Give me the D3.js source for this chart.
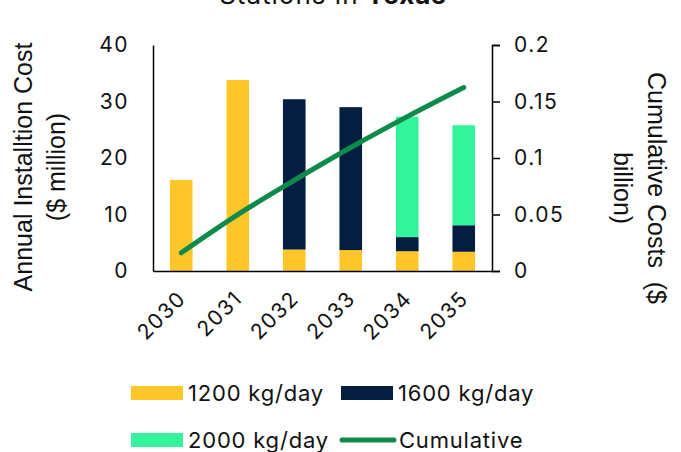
<!DOCTYPE html>
<html>
<head>
<meta charset="utf-8">
<script src="https://cdn.jsdelivr.net/npm/d3@7"></script>
<style>
  body { margin: 0; background: #fff; }
  svg { display: block; }
  .tick text { font-family: Inter, "DejaVu Sans", sans-serif; fill: #111; letter-spacing: 1.5px; }
</style>
</head>
<body>
<script>
var years = ["2030", "2031", "2032", "2033", "2034", "2035"];
var kg1200 = [16.1, 33.8, 3.8, 3.7, 3.5, 3.4];
var kg1600 = [0, 0, 26.6, 25.3, 2.5, 4.7];
var kg2000 = [0, 0, 0, 0, 21.3, 17.7];
var cumulative = [0.0161, 0.0499, 0.0803, 0.1093, 0.1366, 0.1624];
var leftTicks = [0, 10, 20, 30, 40];
var rightTicks = [0, 0.05, 0.1, 0.15, 0.2];

var seriesNames = ["1200 kg/day", "1600 kg/day", "2000 kg/day"];
var colors = ["#FFC629", "#041E42", "#33F39B"];
var lineColor = "#0E8A4B";

var W = 681, H = 452;
var margin = { left: 153, right: 189, top: 45, bottom: 181 };
var width = W - margin.left - margin.right;
var height = H - margin.top - margin.bottom;

var svg = d3.select("body").append("svg")
    .attr("width", W)
    .attr("height", H);

var g = svg.append("g")
    .attr("transform", `translate(${margin.left}, ${margin.top})`);

var x = d3.scaleBand()
    .domain(years)
    .range([0, width])
    .paddingInner(0.6)
    .paddingOuter(0.3);

var y = d3.scaleLinear().domain([0, 40]).range([height, 0]);
var y2 = d3.scaleLinear().domain([0, 0.2]).range([height, 0]);

// stacked bars
var table = years.map((yr, i) => ({ year: yr, a: kg1200[i], b: kg1600[i], c: kg2000[i] }));
var stacked = d3.stack().keys(["a", "b", "c"])(table);

g.selectAll(".layer")
    .data(stacked)
    .enter()
    .append("g")
    .attr("fill", (d, i) => colors[i])
    .selectAll("rect")
    .data(d => d.filter(p => p[1] - p[0] > 0))
    .enter()
    .append("rect")
    .attr("x", d => x(d.data.year))
    .attr("y", d => y(d[1]))
    .attr("width", x.bandwidth())
    .attr("height", d => y(d[0]) - y(d[1]));

// axes
var leftAxis = g.append("g")
    .call(d3.axisLeft(y).tickValues(leftTicks).tickSize(0).tickPadding(24));
leftAxis.select(".domain").attr("stroke", "#000").attr("stroke-width", 1.5);
leftAxis.selectAll("text").attr("font-size", 21);

var rightAxis = g.append("g")
    .attr("transform", `translate(${width}, 0)`)
    .call(d3.axisRight(y2).tickValues(rightTicks).tickSize(8).tickPadding(14).tickFormat(d3.format("~g")));
rightAxis.select(".domain").attr("stroke", "#000").attr("stroke-width", 1.5);
rightAxis.selectAll("line").attr("stroke", "#000").attr("stroke-width", 1.5);
rightAxis.selectAll("text").attr("font-size", 21);

var bottomAxis = g.append("g")
    .attr("transform", `translate(0, ${height})`)
    .call(d3.axisBottom(x).tickSize(0).tickPadding(24));
bottomAxis.select(".domain").attr("stroke", "#000").attr("stroke-width", 1.5);
bottomAxis.selectAll("text")
    .attr("font-size", 21)
    .attr("transform", "translate(-20, 0) rotate(-45)")
    .attr("dx", "-0.1em")
    .attr("dy", "0.7em")
    .attr("text-anchor", "end");

// cumulative line
var line = d3.line()
    .x((d, i) => x(years[i]) + x.bandwidth() / 2)
    .y(d => y2(d))
    .curve(d3.curveMonotoneX);

g.append("path")
    .datum(cumulative)
    .attr("fill", "none")
    .attr("stroke", lineColor)
    .attr("stroke-width", 5)
    .attr("stroke-linecap", "round")
    .attr("d", line);

// axis titles
var leftTitle = svg.append("text")
    .attr("transform", "translate(32, 167) rotate(-90)")
    .attr("text-anchor", "middle")
    .attr("font-family", "'Liberation Sans', Arial, sans-serif")
    .attr("font-size", 25)
    .attr("fill", "#111");
leftTitle.append("tspan").attr("x", 0).attr("dy", 0).text("Annual Installtion Cost");
leftTitle.append("tspan").attr("x", 0).attr("dy", 33).text("($ million)");

var rightTitle = svg.append("text")
    .attr("transform", "translate(648, 188) rotate(90)")
    .attr("text-anchor", "middle")
    .attr("font-family", "'Liberation Sans', Arial, sans-serif")
    .attr("font-size", 25)
    .attr("fill", "#111")
    .style("white-space", "pre");
rightTitle.append("tspan").attr("x", 0).attr("dy", 0).text("Cumulative Costs  ($");
rightTitle.append("tspan").attr("x", 0).attr("dy", 34).text("billion)");

// chart title (cut off at the top)
var title = svg.append("text")
    .attr("x", 333)
    .attr("y", 4)
    .attr("text-anchor", "middle")
    .attr("font-family", "Inter, sans-serif")
    .attr("font-size", 26)
    .attr("letter-spacing", 1)
    .attr("fill", "#111");
title.append("tspan").text("Stations in ");
title.append("tspan").attr("font-weight", "bold").text("Texas");

// legend
var legendItems = [
    { name: seriesNames[0], color: colors[0], type: "rect", x: 131, y: 393 },
    { name: seriesNames[1], color: colors[1], type: "rect", x: 341, y: 393 },
    { name: seriesNames[2], color: colors[2], type: "rect", x: 131, y: 440 },
    { name: "Cumulative", color: lineColor, type: "line", x: 341, y: 440 }
];

var legend = svg.append("g")
    .selectAll("g")
    .data(legendItems)
    .enter()
    .append("g")
    .attr("transform", d => `translate(${d.x}, ${d.y})`);

legend.filter(d => d.type === "rect")
    .append("rect")
    .attr("x", 0)
    .attr("y", -7)
    .attr("width", 52)
    .attr("height", 14)
    .attr("fill", d => d.color);

legend.filter(d => d.type === "line")
    .append("line")
    .attr("x1", 1)
    .attr("x2", 53)
    .attr("stroke", d => d.color)
    .attr("stroke-width", 5)
    .attr("stroke-linecap", "round");

legend.append("text")
    .attr("x", d => d.type === "line" ? 58 : 57)
    .attr("dy", "0.35em")
    .attr("font-family", "Inter, sans-serif")
    .attr("font-size", 22)
    .attr("letter-spacing", 0.8)
    .attr("fill", "#111")
    .text(d => d.name);
</script>
</body>
</html>
